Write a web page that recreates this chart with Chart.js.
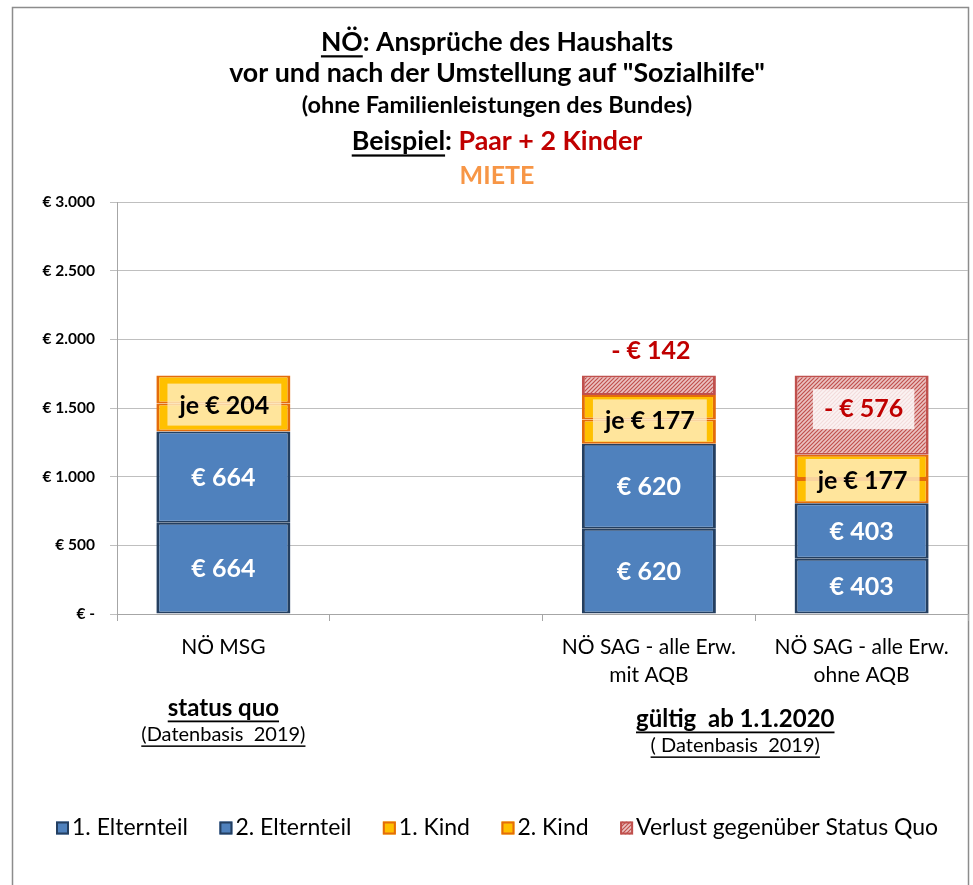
<!DOCTYPE html>
<html><head><meta charset="utf-8">
<script src="https://cdn.jsdelivr.net/npm/chart.js@4.4.1/dist/chart.umd.min.js"></script>
<style>html,body{margin:0;padding:0;background:#fff;} canvas{display:block;}</style>
</head><body>
<canvas id="c" width="973" height="885"></canvas>
<script>
// ---------- DATA ----------
const categories = [['NÖ MSG'], [''], ['NÖ SAG - alle Erw.', 'mit AQB'], ['NÖ SAG - alle Erw.', 'ohne AQB']];
const seriesNames = ['1. Elternteil', '2. Elternteil', '1. Kind', '2. Kind', 'Verlust gegenüber Status Quo'];
const elternteil1 = [664, null, 620, 403];
const elternteil2 = [664, null, 620, 403];
const kind1 = [204, null, 177, 177];
const kind2 = [204, null, 177, 177];
const verlust = [null, null, 142, 576];
const yTicks = [0, 500, 1000, 1500, 2000, 2500, 3000];
const yTickLabels = ['€ -', '€ 500', '€ 1.000', '€ 1.500', '€ 2.000', '€ 2.500', '€ 3.000'];
const groupTitles = ['status quo', 'gültig  ab 1.1.2020'];
const groupSubtitles = ['(Datenbasis  2019)', '( Datenbasis  2019)'];
const groupCategories = [[0], [2, 3]];

const FONT = "Lato, 'Open Sans', sans-serif";

// hatch pattern for loss series
function makeHatch() {
  const p = document.createElement('canvas');
  p.width = 4; p.height = 4;
  const g = p.getContext('2d');
  g.fillStyle = '#EBC3C2';
  g.fillRect(0, 0, 4, 4);
  g.strokeStyle = '#C0504D';
  g.lineWidth = 1.2;
  g.beginPath();
  g.moveTo(-1, 5); g.lineTo(5, -1);
  g.moveTo(-1, 1); g.lineTo(1, -1);
  g.moveTo(3, 5); g.lineTo(5, 3);
  g.stroke();
  return document.getElementById('c').getContext('2d').createPattern(p, 'repeat');
}
const hatch = makeHatch();

const BLUE = '#4F81BD', BLUE_B = '#243F60';
const YEL = '#FFC000', YEL_B = '#E46C0A';
const RED_B = '#C0504D';
const bw = {top: 2, bottom: 2, left: 3, right: 3};

const datasets = [
  {label: seriesNames[0], data: elternteil1, backgroundColor: BLUE, borderColor: BLUE_B},
  {label: seriesNames[1], data: elternteil2, backgroundColor: BLUE, borderColor: BLUE_B},
  {label: seriesNames[2], data: kind1, backgroundColor: YEL, borderColor: YEL_B},
  {label: seriesNames[3], data: kind2, backgroundColor: YEL, borderColor: YEL_B},
  {label: seriesNames[4], data: verlust, backgroundColor: hatch, borderColor: RED_B}
].map(d => Object.assign(d, {borderWidth: bw, borderSkipped: false, barPercentage: 0.63, categoryPercentage: 1}));

function txt(ctx, s, x, y, font, color, align) {
  ctx.font = font; ctx.fillStyle = color; ctx.textAlign = align || 'center'; ctx.textBaseline = 'middle';
  ctx.fillText(s, x, y);
}
function richLine(ctx, segs, cx, cy, size) {
  ctx.font = 'bold ' + size + 'px ' + FONT;
  const widths = segs.map(s => ctx.measureText(s.t).width);
  const total = widths.reduce((a, b) => a + b, 0);
  let x = cx - total / 2;
  ctx.textAlign = 'left'; ctx.textBaseline = 'middle';
  segs.forEach((s, i) => {
    ctx.fillStyle = s.c || '#000';
    ctx.fillText(s.t, x, cy);
    if (s.u) {
      ctx.fillRect(x, cy + size * 0.5, widths[i], Math.max(1.5, size / 12));
    }
    x += widths[i];
  });
}
function underlined(ctx, s, cx, cy, font, size, thick) {
  ctx.font = font; ctx.fillStyle = '#000'; ctx.textAlign = 'center'; ctx.textBaseline = 'middle';
  ctx.fillText(s, cx, cy);
  const w = ctx.measureText(s).width;
  ctx.fillRect(cx - w / 2, cy + size * 0.52, w, thick);
}

const decor = {
  id: 'decor',
  beforeDraw(chart) {
    const ctx = chart.ctx;
    ctx.save();
    ctx.fillStyle = '#fff';
    ctx.fillRect(0, 0, chart.width, chart.height);
    ctx.strokeStyle = '#8C8C8C';
    ctx.lineWidth = 1.5;
    ctx.strokeRect(12.5, 7.5, 956, 900);
    ctx.restore();
  },
  afterDatasetsDraw(chart) {
    const ctx = chart.ctx;
    ctx.save();
    const el = (d, i) => chart.getDatasetMeta(d).data[i].getProps(['x', 'y', 'base', 'width'], true);
    const vf = FONT;
    for (let i = 0; i < categories.length; i++) {
      [0, 1].forEach(d => {
        const v = chart.data.datasets[d].data[i];
        if (v == null) return;
        const e = el(d, i);
        txt(ctx, '€ ' + v, e.x, (e.y + e.base) / 2 + 1, 'bold 25px ' + vf, '#fff');
      });
      const k = chart.data.datasets[2].data[i];
      if (k != null) {
        const a = el(2, i), b = el(3, i);
        const cy = (b.y + a.base) / 2 + 1;
        const s = 'je € ' + k;
        ctx.font = 'bold 25px ' + vf;
        const w = ctx.measureText(s).width + 24;
        ctx.fillStyle = 'rgba(255,240,200,0.78)';
        ctx.fillRect(a.x - w / 2 + 1, cy - 21, w, 42);
        txt(ctx, s, a.x + 1, cy + 1, 'bold 25px ' + vf, '#000');
      }
      const l = chart.data.datasets[4].data[i];
      if (l != null) {
        const e = el(4, i);
        const s = '- € ' + l;
        const h = e.base - e.y;
        ctx.font = 'bold 25px ' + vf;
        if (h < 45) {
          txt(ctx, s, e.x + 2, e.y - 25, 'bold 25px ' + vf, '#C00000');
        } else {
          const w = ctx.measureText(s).width + 22;
          const cy = (e.y + e.base) / 2 - 6;
          ctx.fillStyle = 'rgba(255,255,255,0.8)';
          ctx.fillRect(e.x - w / 2 + 2, cy - 20, w, 40);
          txt(ctx, s, e.x + 2, cy, 'bold 25px ' + vf, '#C00000');
        }
      }
    }
    ctx.restore();
  },
  afterDraw(chart) {
    const ctx = chart.ctx;
    ctx.save();
    const cx = 497;
    richLine(ctx, [{t: 'NÖ', u: true}, {t: ': Ansprüche des Haushalts'}], cx, 42, 26.5);
    richLine(ctx, [{t: 'vor und nach der Umstellung auf "Sozialhilfe"'}], cx, 73, 26.8);
    richLine(ctx, [{t: '(ohne Familienleistungen des Bundes)'}], cx, 105, 23.5);
    richLine(ctx, [{t: 'Beispiel', u: true}, {t: ': '}, {t: 'Paar + 2 Kinder', c: '#C00000'}], cx, 141, 26.8);
    richLine(ctx, [{t: 'MIETE', c: '#F79646'}], cx, 176, 25);

    const xs = chart.scales.x;
    groupCategories.forEach((cats, g) => {
      const x = cats.reduce((a, c) => a + xs.getPixelForValue(c), 0) / cats.length - (cats.length > 1 ? 20 : 0);
      const y0 = cats.length > 1 ? 719 : 708;
      underlined(ctx, groupTitles[g], x, y0, 'bold 24px ' + FONT, 24, 1.8);
      underlined(ctx, groupSubtitles[g], x, y0 + 27, '20px ' + FONT, 20, 1.5);
    });

    let x = 56;
    const ly = 828;
    ctx.font = '23px ' + FONT;
    chart.data.datasets.forEach((d, i) => {
      ctx.fillStyle = d.backgroundColor;
      ctx.fillRect(x, ly - 6.5, 13, 13);
      ctx.strokeStyle = d.borderColor;
      ctx.lineWidth = 2;
      ctx.strokeRect(x + 1, ly - 5.5, 11, 11);
      ctx.fillStyle = '#000';
      ctx.textAlign = 'left'; ctx.textBaseline = 'middle';
      ctx.fillText(d.label, x + 16, ly);
      x += 16 + ctx.measureText(d.label).width + 31.5;
    });
    ctx.restore();
  }
};

new Chart(document.getElementById('c'), {
  type: 'bar',
  data: {labels: categories, datasets},
  plugins: [decor],
  options: {
    responsive: false,
    animation: false,
    devicePixelRatio: 1,
    layout: {padding: {top: 202, right: 5, left: 0, bottom: 191}},
    plugins: {legend: {display: false}, title: {display: false}, tooltip: {enabled: false}},
    scales: {
      x: {
        stacked: true,
        grid: {display: true, drawOnChartArea: false, drawTicks: true, tickLength: 7, offset: true, color: '#A6A6A6'},
        border: {display: true, color: '#A6A6A6'},
        ticks: {font: {family: FONT, size: 21, lineHeight: 1.33}, color: '#000', padding: 12, maxRotation: 0, autoSkip: false},
        afterFit(s) { s.height = 80; }
      },
      y: {
        stacked: true, min: 0, max: 3000,
        afterBuildTicks(s) { s.ticks = yTicks.map(v => ({value: v})); },
        grid: {color: '#BFBFBF', tickLength: 7},
        border: {display: true, color: '#A6A6A6'},
        ticks: {
          font: {family: FONT, size: 15.5, weight: 'bold'}, color: '#000', padding: 15,
          callback: (v, i) => yTickLabels[yTicks.indexOf(v)]
        },
        afterFit(s) { s.width = 117; }
      }
    }
  }
});
</script>
</body></html>
